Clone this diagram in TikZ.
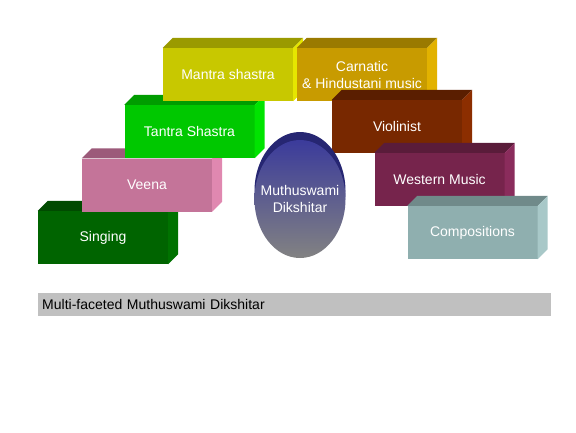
\documentclass[tikz,border=0pt]{standalone}
\usepackage{fontspec}
\setmainfont{Liberation Sans}
\usetikzlibrary{shapes.geometric}
\definecolor{mfront}{HTML}{C8C800}\definecolor{mtop}{HTML}{9A9A00}\definecolor{mside}{HTML}{E6E600}
\definecolor{cfront}{HTML}{C89B00}\definecolor{ctop}{HTML}{9A7A00}\definecolor{cside}{HTML}{E2B200}
\definecolor{tfront}{HTML}{00C800}\definecolor{ttop}{HTML}{009C00}\definecolor{tside}{HTML}{00E400}
\definecolor{vfront}{HTML}{C47499}\definecolor{vtop}{HTML}{9C5A7A}\definecolor{vside}{HTML}{E088B0}
\definecolor{sfront}{HTML}{006400}\definecolor{stop}{HTML}{004A00}\definecolor{sside}{HTML}{007200}
\definecolor{ofront}{HTML}{782800}\definecolor{otop}{HTML}{5A1E00}\definecolor{oside}{HTML}{8C2E00}
\definecolor{wfront}{HTML}{76244C}\definecolor{wtop}{HTML}{5A1C3A}\definecolor{wside}{HTML}{8A2C5C}
\definecolor{kfront}{HTML}{8FAFAF}\definecolor{ktop}{HTML}{708A8A}\definecolor{kside}{HTML}{A8C8C8}
\definecolor{navyback}{HTML}{262672}\definecolor{ellblue}{HTML}{3B3B9B}\definecolor{ellgray}{HTML}{828282}
\definecolor{barc}{HTML}{C0C0C0}
\newcommand\slab[6]{%
  \node[slabbox, fill=#3] (#1) at (#2) {#6};
  \fill[#4] (#1.north west) -- ++(10pt,10pt) -- ([shift={(10pt,10pt)}]#1.north east) -- (#1.north east) -- cycle;
  \fill[#5] (#1.north east) -- ++(10pt,10pt) -- ([shift={(10pt,10pt)}]#1.south east) -- (#1.south east) -- cycle;}
\begin{document}
\begin{tikzpicture}[x=1pt,y=-1pt,
  slabbox/.style={rectangle, minimum width=130pt, minimum height=53pt, inner sep=0pt, text=white, align=center, font=\fontsize{14pt}{17pt}\selectfont},
  ellnode/.style={ellipse, minimum width=91pt, minimum height=118pt, inner sep=0pt},
]
\useasboundingbox[fill=white] (0,0) rectangle (576,432);
\slab{singing}{103,237.5}{sfront}{stop}{sside}{Singing}
\slab{veena}{147,185}{vfront}{vtop}{vside}{Veena}
\slab{tantra}{189.5,131.5}{tfront}{ttop}{tside}{Tantra Shastra}
\slab{mantra}{228,74.5}{mfront}{mtop}{mside}{Mantra shastra}
\slab{carnatic}{362,74.5}{cfront}{ctop}{cside}{Carnatic\\\& Hindustani music}
\slab{violin}{397,126.5}{ofront}{otop}{oside}{Violinist}
\slab{western}{439.5,179.5}{wfront}{wtop}{wside}{Western Music}
\slab{comp}{472.5,232.5}{kfront}{ktop}{kside}{Compositions}
\node[ellnode, fill=navyback] (mdback) at (300,191) {};
\node[ellnode, top color=ellblue, bottom color=ellgray] (md) at (300,199) {};
\node[text=white, align=center, inner sep=0pt, font=\fontsize{14pt}{17pt}\selectfont] (mdlabel) at (md.center) {Muthuswami\\Dikshitar};
\node[anchor=west, fill=barc, minimum height=23pt, text width=505pt, inner xsep=4pt, inner ysep=0pt, align=left, font=\fontsize{14pt}{17pt}\selectfont] (caption) at (38,304) {Multi-faceted Muthuswami Dikshitar};
\end{tikzpicture}
\end{document}
